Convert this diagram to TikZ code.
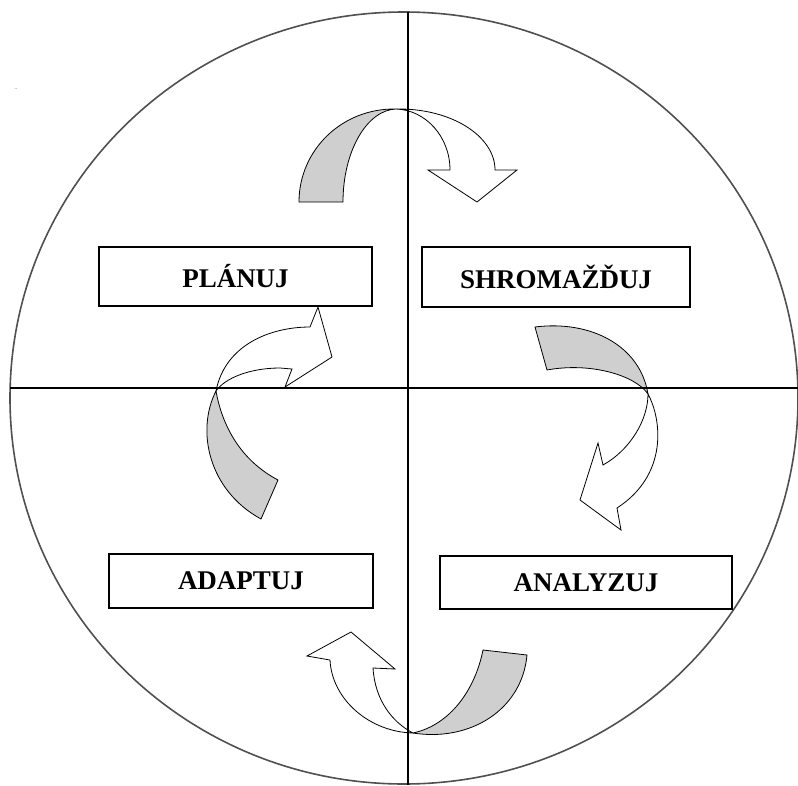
\documentclass[tikz,border=0pt]{standalone}
\usepackage{fontspec}
\setmainfont{Liberation Serif}
\usetikzlibrary{positioning}
\definecolor{ribbongray}{HTML}{CFCFCF}
\definecolor{rimgray}{HTML}{505050}
\tikzset{
  stagebox/.style={draw,line width=1.4pt,fill=white,inner sep=0pt,
    font=\fontsize{27}{30}\selectfont\bfseries},
  backband/.style={fill=ribbongray,draw=black,line width=0.8pt,line join=round},
  frontband/.style={fill=white,draw=black,line width=0.8pt,line join=miter}
}
\begin{document}
\begin{tikzpicture}[x=1pt,y=-1pt]
    \useasboundingbox (0,0) rectangle (798,785);
    \draw[rimgray,line width=1.6pt] (404,398) ellipse [x radius=394pt,y radius=386pt];
    \node[font=\fontsize{8}{8}\selectfont,text=gray,inner sep=0pt] (speck) at (16,91) {¨};
    % top ribbon
    \coordinate (ttop) at (396,109);
    \draw[backband] (299,202) .. controls (299,150) and (342,108) .. (ttop)
      .. controls (367,110) and (343,151) .. (343,202) -- cycle;
    \draw[frontband] (ttop) .. controls (451,108) and (495,136) .. (495,170)
      -- (517,170) -- (477,202) -- (428,170) -- (450,170)
      .. controls (450,137) and (426,110) .. (ttop) -- cycle;
    % right ribbon
    \coordinate (tright) at (648,394);
    \draw[backband] (535,327) .. controls (590,320) and (640,345) .. (tright)
      .. controls (635,375) and (590,362) .. (547,370) -- cycle;
    \draw[frontband] (tright) .. controls (662,420) and (668,475) .. (617,508)
      -- (621,530) -- (580,500) -- (598,443) -- (603,465)
      .. controls (630,450) and (648,420) .. (tright) -- cycle;
    % bottom ribbon
    \coordinate (tbottom) at (413,733);
    \draw[backband] (527,655) .. controls (522,710) and (470,742) .. (tbottom)
      .. controls (450,725) and (475,690) .. (483,650) -- cycle;
    \draw[frontband] (tbottom) .. controls (370,732) and (332,700) .. (330,660)
      -- (307,656) -- (351,632) -- (395,669) -- (373,668)
      .. controls (375,700) and (392,722) .. (tbottom) -- cycle;
    % left ribbon
    \coordinate (tleft) at (216,391);
    \draw[backband] (261,519) .. controls (208,490) and (196,430) .. (tleft)
      .. controls (222,425) and (240,460) .. (278,480) -- cycle;
    \draw[frontband] (tleft) .. controls (225,345) and (270,327) .. (310,327)
      -- (318,307) -- (332,357) -- (285,387) -- (292,369) -- (280,368)
      .. controls (250,368) and (225,378) .. (tleft) -- cycle;
    % cross
    \draw[line width=1.2pt] (408,12) -- (408,785);
    \draw[line width=1.2pt] (10,388) -- (798,388);
    % stages
    \node[stagebox,minimum width=273pt,minimum height=59pt] (plan) at (235.5,276.5) {PLÁNUJ};
    \node[stagebox,minimum width=268pt,minimum height=60pt] (collect) at (556,277) {SHROMAŽĎUJ};
    \node[stagebox,minimum width=264pt,minimum height=54pt] (adapt) at (241,581) {ADAPTUJ};
    \node[stagebox,minimum width=292pt,minimum height=53pt] (analyse) at (586,582.5) {ANALYZUJ};
\end{tikzpicture}
\end{document}
